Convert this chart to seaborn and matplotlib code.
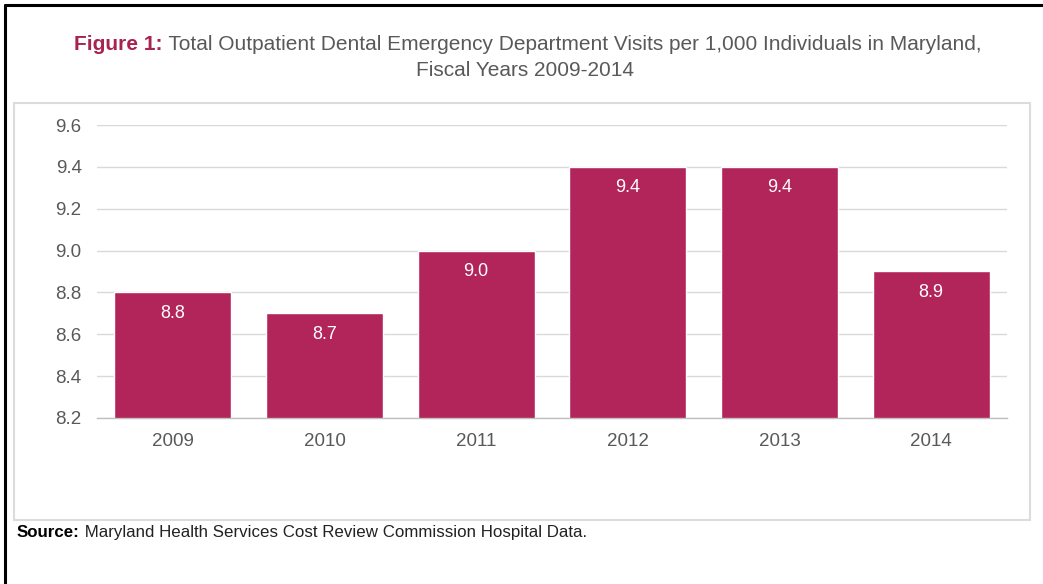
import matplotlib
matplotlib.use("Agg")
import matplotlib.pyplot as plt
import seaborn as sns
import pandas as pd
from matplotlib.patches import Rectangle
from matplotlib.lines import Line2D

years = ["2009", "2010", "2011", "2012", "2013", "2014"]
visits = [8.8, 8.7, 9.0, 9.4, 9.4, 8.9]
y_ticks = [8.2, 8.4, 8.6, 8.8, 9.0, 9.2, 9.4, 9.6]

title_lead = "Figure 1:"
title_rest = " Total Outpatient Dental Emergency Department Visits per 1,000 Individuals in Maryland,"
title_line2 = "Fiscal Years 2009-2014"
source_lead = "Source:"
source_rest = " Maryland Health Services Cost Review Commission Hospital Data."

BAR = "#B2255A"
TXT = "#595959"

sns.set_theme(style="white")
plt.rcParams["font.family"] = ["Liberation Sans", "DejaVu Sans"]

W, H = 1043, 584
fig = plt.figure(figsize=(W / 100, H / 100), dpi=100)
fig.patch.set_facecolor("white")

# outer frame (top and left edges)
fig.add_artist(Line2D([5 / W, 5 / W], [0, 1 - 5 / H], transform=fig.transFigure,
                      color="black", lw=2.2))
fig.add_artist(Line2D([5 / W, 1], [1 - 5 / H, 1 - 5 / H], transform=fig.transFigure,
                      color="black", lw=2.2))

# chart panel
fig.add_artist(Rectangle((14 / W, 1 - 520 / H), (1030 - 14) / W, (520 - 103) / H,
                         transform=fig.transFigure, fill=False,
                         edgecolor="#DCDCDC", lw=1.5))

ax = fig.add_axes([97 / W, 1 - 418 / H, (1007 - 97) / W, (418 - 125) / H])
df = pd.DataFrame({"year": years, "visits": visits})
sns.barplot(data=df, x="year", y="visits", color=BAR, saturation=1,
            width=0.77, ax=ax)

ax.set_ylim(8.2, 9.6)
ax.set_xlim(-0.5, len(years) - 0.5)
ax.set_yticks(y_ticks)
ax.set_yticklabels([f"{v:.1f}" for v in y_ticks])
ax.set_xlabel("")
ax.set_ylabel("")
ax.grid(axis="y", color="#D9D9D9", lw=1)
ax.set_axisbelow(True)
for s in ["top", "right", "left"]:
    ax.spines[s].set_visible(False)
ax.spines["bottom"].set_color("#BFBFBF")
ax.spines["bottom"].set_linewidth(1)
ax.tick_params(axis="y", length=0, pad=11, labelsize=13.5, labelcolor=TXT)
ax.tick_params(axis="x", length=0, pad=11, labelsize=13.5, labelcolor=TXT)

for i, v in enumerate(visits):
    ax.annotate(f"{v:.1f}", (i, v), xytext=(0, -15), textcoords="offset points",
                ha="center", va="center", color="white", fontsize=13)

# title, first line with a colored lead-in
fig.canvas.draw()
r = fig.canvas.get_renderer()
fs_title = 15
y1 = 1 - 50 / H
t_lead = fig.text(0, y1, title_lead, color="#A8234F", fontweight="bold",
                  fontsize=fs_title, va="baseline", ha="left")
t_rest = fig.text(0, y1, title_rest, color=TXT, fontsize=fs_title,
                  va="baseline", ha="left")
w_lead = t_lead.get_window_extent(r).width / W
w_rest = t_rest.get_window_extent(r).width / W
x0 = 528 / W - (w_lead + w_rest) / 2
t_lead.set_x(x0)
t_rest.set_x(x0 + w_lead)
fig.text(525 / W, 1 - 76 / H, title_line2, color=TXT, fontsize=fs_title,
         va="baseline", ha="center")

# source note
ys = 1 - 537 / H
s_lead = fig.text(17 / W, ys, source_lead, color="black", fontweight="bold",
                  fontsize=12.2, va="baseline", ha="left")
ws = s_lead.get_window_extent(r).width / W
fig.text(17 / W + ws, ys, source_rest, color="#222222", fontsize=12.2,
         va="baseline", ha="left")

fig.savefig("out.png", dpi=100, facecolor="white")
